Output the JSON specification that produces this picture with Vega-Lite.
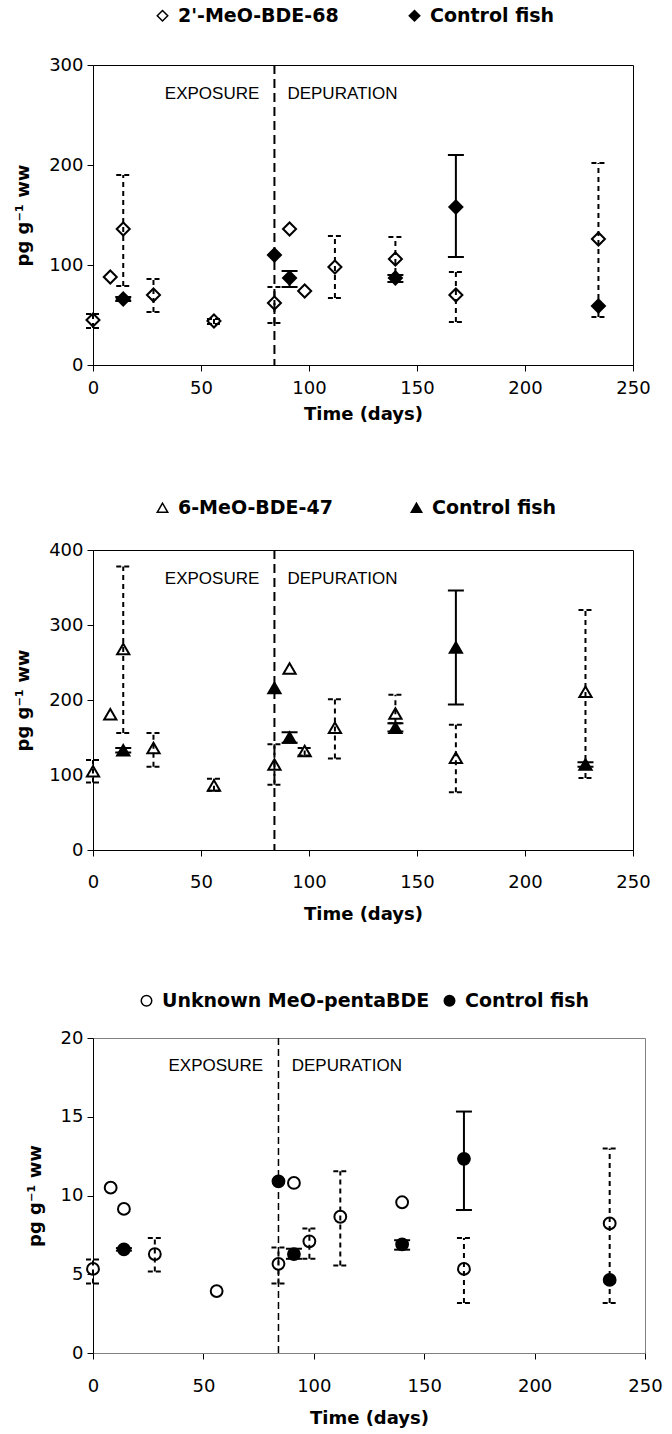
{
  "$schema": "https://vega.github.io/schema/vega-lite/v6.json",
  "padding": {"left": 14, "top": 5, "right": 5, "bottom": 5},
  "datasets": {
    "d1": [
      {"series": "2'-MeO-BDE-68", "kind": "exp", "day": 0, "value": 45, "lo": 37, "hi": 51},
      {"series": "2'-MeO-BDE-68", "kind": "exp", "day": 8, "value": 88, "lo": null, "hi": null},
      {"series": "2'-MeO-BDE-68", "kind": "exp", "day": 14, "value": 136, "lo": 79, "hi": 190},
      {"series": "2'-MeO-BDE-68", "kind": "exp", "day": 28, "value": 70, "lo": 53, "hi": 86},
      {"series": "2'-MeO-BDE-68", "kind": "exp", "day": 56, "value": 44, "lo": 41, "hi": 46},
      {"series": "2'-MeO-BDE-68", "kind": "exp", "day": 84, "value": 62, "lo": 42, "hi": 78},
      {"series": "2'-MeO-BDE-68", "kind": "exp", "day": 91, "value": 136, "lo": null, "hi": null},
      {"series": "2'-MeO-BDE-68", "kind": "exp", "day": 98, "value": 74, "lo": null, "hi": null},
      {"series": "2'-MeO-BDE-68", "kind": "exp", "day": 112, "value": 98, "lo": 67, "hi": 129},
      {"series": "2'-MeO-BDE-68", "kind": "exp", "day": 140, "value": 106, "lo": 83, "hi": 128},
      {"series": "2'-MeO-BDE-68", "kind": "exp", "day": 168, "value": 70, "lo": 43, "hi": 93},
      {"series": "2'-MeO-BDE-68", "kind": "exp", "day": 234, "value": 126, "lo": 48, "hi": 202},
      {"series": "Control fish", "kind": "ctl", "day": 14, "value": 66, "lo": 64, "hi": 68},
      {"series": "Control fish", "kind": "ctl", "day": 84, "value": 110, "lo": null, "hi": null},
      {"series": "Control fish", "kind": "ctl", "day": 91, "value": 87, "lo": 78, "hi": 94},
      {"series": "Control fish", "kind": "ctl", "day": 140, "value": 87, "lo": 83, "hi": 90},
      {"series": "Control fish", "kind": "ctl", "day": 168, "value": 158, "lo": 108, "hi": 210},
      {"series": "Control fish", "kind": "ctl", "day": 234, "value": 59, "lo": null, "hi": null}
    ],
    "d2": [
      {"series": "6-MeO-BDE-47", "kind": "exp", "day": 0, "value": 105, "lo": 90, "hi": 120},
      {"series": "6-MeO-BDE-47", "kind": "exp", "day": 8, "value": 181, "lo": null, "hi": null},
      {"series": "6-MeO-BDE-47", "kind": "exp", "day": 14, "value": 268, "lo": 156, "hi": 378},
      {"series": "6-MeO-BDE-47", "kind": "exp", "day": 28, "value": 136, "lo": 111, "hi": 156},
      {"series": "6-MeO-BDE-47", "kind": "exp", "day": 56, "value": 86, "lo": 79, "hi": 95},
      {"series": "6-MeO-BDE-47", "kind": "exp", "day": 84, "value": 114, "lo": 87, "hi": 141},
      {"series": "6-MeO-BDE-47", "kind": "exp", "day": 91, "value": 242, "lo": null, "hi": null},
      {"series": "6-MeO-BDE-47", "kind": "exp", "day": 98, "value": 132, "lo": 126, "hi": 136},
      {"series": "6-MeO-BDE-47", "kind": "exp", "day": 112, "value": 163, "lo": 122, "hi": 201},
      {"series": "6-MeO-BDE-47", "kind": "exp", "day": 140, "value": 182, "lo": 169, "hi": 207},
      {"series": "6-MeO-BDE-47", "kind": "exp", "day": 168, "value": 123, "lo": 77, "hi": 167},
      {"series": "6-MeO-BDE-47", "kind": "exp", "day": 228, "value": 211, "lo": 96, "hi": 320},
      {"series": "Control fish", "kind": "ctl", "day": 14, "value": 133, "lo": 130, "hi": 136},
      {"series": "Control fish", "kind": "ctl", "day": 84, "value": 216, "lo": null, "hi": null},
      {"series": "Control fish", "kind": "ctl", "day": 91, "value": 150, "lo": 143, "hi": 157},
      {"series": "Control fish", "kind": "ctl", "day": 140, "value": 163, "lo": 158, "hi": 169},
      {"series": "Control fish", "kind": "ctl", "day": 168, "value": 270, "lo": 194, "hi": 346},
      {"series": "Control fish", "kind": "ctl", "day": 228, "value": 114, "lo": 111, "hi": 117}
    ],
    "d3": [
      {"series": "Unknown MeO-pentaBDE", "kind": "exp", "day": 0, "value": 5.34, "lo": 4.42, "hi": 5.94},
      {"series": "Unknown MeO-pentaBDE", "kind": "exp", "day": 8, "value": 10.5, "lo": null, "hi": null},
      {"series": "Unknown MeO-pentaBDE", "kind": "exp", "day": 14, "value": 9.15, "lo": null, "hi": null},
      {"series": "Unknown MeO-pentaBDE", "kind": "exp", "day": 28, "value": 6.28, "lo": 5.17, "hi": 7.3},
      {"series": "Unknown MeO-pentaBDE", "kind": "exp", "day": 56, "value": 3.93, "lo": null, "hi": null},
      {"series": "Unknown MeO-pentaBDE", "kind": "exp", "day": 84, "value": 5.66, "lo": 4.42, "hi": 6.7},
      {"series": "Unknown MeO-pentaBDE", "kind": "exp", "day": 91, "value": 10.8, "lo": null, "hi": null},
      {"series": "Unknown MeO-pentaBDE", "kind": "exp", "day": 98, "value": 7.09, "lo": 5.98, "hi": 7.9},
      {"series": "Unknown MeO-pentaBDE", "kind": "exp", "day": 112, "value": 8.65, "lo": 5.56, "hi": 11.54},
      {"series": "Unknown MeO-pentaBDE", "kind": "exp", "day": 140, "value": 9.57, "lo": null, "hi": null},
      {"series": "Unknown MeO-pentaBDE", "kind": "exp", "day": 168, "value": 5.34, "lo": 3.18, "hi": 7.3},
      {"series": "Unknown MeO-pentaBDE", "kind": "exp", "day": 234, "value": 8.23, "lo": 3.18, "hi": 12.98},
      {"series": "Control fish", "kind": "ctl", "day": 14, "value": 6.58, "lo": 6.5, "hi": 6.66},
      {"series": "Control fish", "kind": "ctl", "day": 84, "value": 10.9, "lo": null, "hi": null},
      {"series": "Control fish", "kind": "ctl", "day": 91, "value": 6.28, "lo": 5.98, "hi": 6.62},
      {"series": "Control fish", "kind": "ctl", "day": 140, "value": 6.9, "lo": 6.56, "hi": 7.16},
      {"series": "Control fish", "kind": "ctl", "day": 168, "value": 12.33, "lo": 9.08, "hi": 15.33},
      {"series": "Control fish", "kind": "ctl", "day": 234, "value": 4.64, "lo": null, "hi": null}
    ]
  },
  "spacing": 66,
  "resolve": {"scale": {"x": "independent", "y": "independent", "shape": "independent", "fill": "independent", "stroke": "independent"}, "legend": {"shape": "independent", "fill": "independent", "stroke": "independent"}},
  "vconcat": [
    {
      "spacing": 73,
      "resolve": {"scale": {"x": "independent", "y": "independent", "shape": "independent", "fill": "independent", "stroke": "independent"}, "legend": {"shape": "independent", "fill": "independent", "stroke": "independent"}},
      "vconcat": [
        {
          "width": 540, "height": 300,
          "data": {"name": "d1"},
          "layer": [
            {"mark": {"type": "point", "filled": true, "strokeWidth": 2, "size": 170, "opacity": 1},
             "encoding": {
               "x": {"field": "day", "type": "quantitative", "scale": {"domain": [0, 250], "nice": false}, "axis": {"values": [0, 50, 100, 150, 200, 250], "title": "Time (days)"}},
               "y": {"field": "value", "type": "quantitative", "scale": {"domain": [0, 300], "nice": false}, "axis": {"values": [0, 100, 200, 300], "title": "pg g⁻¹ ww"}},
               "shape": {"field": "series", "type": "nominal", "scale": {"domain": ["2'-MeO-BDE-68", "Control fish"], "range": ["diamond", "diamond"]},
                 "legend": {"orient": "none", "legendX": 60, "legendY": -59, "direction": "horizontal", "title": null, "columnPadding": 66}},
               "fill": {"field": "series", "type": "nominal", "scale": {"domain": ["2'-MeO-BDE-68", "Control fish"], "range": ["white", "black"]},
                 "legend": {"orient": "none", "legendX": 60, "legendY": -59, "direction": "horizontal", "title": null, "columnPadding": 66}},
               "stroke": {"field": "series", "type": "nominal", "scale": {"domain": ["2'-MeO-BDE-68", "Control fish"], "range": ["black", "black"]},
                 "legend": {"orient": "none", "legendX": 60, "legendY": -59, "direction": "horizontal", "title": null, "columnPadding": 66}}
             }},
            {"data": {"values": [{}]}, "mark": {"type": "rule", "strokeDash": [9, 5], "strokeWidth": 2, "color": "black"}, "encoding": {"x": {"datum": 84, "type": "quantitative"}}},
            {"data": {"values": [{}]}, "mark": {"type": "text", "align": "right", "baseline": "middle", "font": "Liberation Sans", "fontSize": 17, "color": "black"},
             "encoding": {"x": {"datum": 77, "type": "quantitative"}, "y": {"datum": 271, "type": "quantitative"}, "text": {"value": "EXPOSURE"}}},
            {"data": {"values": [{}]}, "mark": {"type": "text", "align": "left", "baseline": "middle", "font": "Liberation Sans", "fontSize": 17, "color": "black"},
             "encoding": {"x": {"datum": 90, "type": "quantitative"}, "y": {"datum": 271, "type": "quantitative"}, "text": {"value": "DEPURATION"}}},
            {"transform": [{"filter": {"field": "kind", "equal": "exp"}}, {"filter": "isValid(datum.lo)"}],
             "mark": {"type": "rule", "strokeDash": [5, 4], "strokeWidth": 2, "color": "black"},
             "encoding": {"x": {"field": "day", "type": "quantitative"}, "y": {"field": "lo", "type": "quantitative"}, "y2": {"field": "hi"}}},
            {"transform": [{"filter": {"field": "kind", "equal": "exp"}}, {"filter": "isValid(datum.lo)"}],
             "mark": {"type": "rule", "strokeDash": [5, 3], "strokeWidth": 2, "color": "black", "xOffset": -7, "x2Offset": 7},
             "encoding": {"x": {"field": "day", "type": "quantitative"}, "x2": {"field": "day"}, "y": {"field": "lo", "type": "quantitative"}}},
            {"transform": [{"filter": {"field": "kind", "equal": "exp"}}, {"filter": "isValid(datum.hi)"}],
             "mark": {"type": "rule", "strokeDash": [5, 3], "strokeWidth": 2, "color": "black", "xOffset": -7, "x2Offset": 7},
             "encoding": {"x": {"field": "day", "type": "quantitative"}, "x2": {"field": "day"}, "y": {"field": "hi", "type": "quantitative"}}},
            {"transform": [{"filter": {"field": "kind", "equal": "ctl"}}, {"filter": "isValid(datum.lo)"}],
             "mark": {"type": "rule", "strokeWidth": 2, "color": "black"},
             "encoding": {"x": {"field": "day", "type": "quantitative"}, "y": {"field": "lo", "type": "quantitative"}, "y2": {"field": "hi"}}},
            {"transform": [{"filter": {"field": "kind", "equal": "ctl"}}, {"filter": "isValid(datum.lo)"}],
             "mark": {"type": "rule", "strokeWidth": 2, "color": "black", "xOffset": -8, "x2Offset": 8},
             "encoding": {"x": {"field": "day", "type": "quantitative"}, "x2": {"field": "day"}, "y": {"field": "lo", "type": "quantitative"}}},
            {"transform": [{"filter": {"field": "kind", "equal": "ctl"}}, {"filter": "isValid(datum.hi)"}],
             "mark": {"type": "rule", "strokeWidth": 2, "color": "black", "xOffset": -8, "x2Offset": 8},
             "encoding": {"x": {"field": "day", "type": "quantitative"}, "x2": {"field": "day"}, "y": {"field": "hi", "type": "quantitative"}}}
          ]
        },
        {
          "width": 540, "height": 300,
          "data": {"name": "d2"},
          "layer": [
            {"mark": {"type": "point", "filled": true, "strokeWidth": 2, "size": 150, "opacity": 1},
             "encoding": {
               "x": {"field": "day", "type": "quantitative", "scale": {"domain": [0, 250], "nice": false}, "axis": {"values": [0, 50, 100, 150, 200, 250], "title": "Time (days)", "labelPadding": 17, "titlePadding": 14}},
               "y": {"field": "value", "type": "quantitative", "scale": {"domain": [0, 400], "nice": false}, "axis": {"values": [0, 100, 200, 300, 400], "title": "pg g⁻¹ ww"}},
               "shape": {"field": "series", "type": "nominal", "scale": {"domain": ["6-MeO-BDE-47", "Control fish"], "range": ["triangle-up", "triangle-up"]},
                 "legend": {"orient": "none", "legendX": 60, "legendY": -52, "direction": "horizontal", "title": null, "columnPadding": 74}},
               "fill": {"field": "series", "type": "nominal", "scale": {"domain": ["6-MeO-BDE-47", "Control fish"], "range": ["white", "black"]},
                 "legend": {"orient": "none", "legendX": 60, "legendY": -52, "direction": "horizontal", "title": null, "columnPadding": 74}},
               "stroke": {"field": "series", "type": "nominal", "scale": {"domain": ["6-MeO-BDE-47", "Control fish"], "range": ["black", "black"]},
                 "legend": {"orient": "none", "legendX": 60, "legendY": -52, "direction": "horizontal", "title": null, "columnPadding": 74}}
             }},
            {"data": {"values": [{}]}, "mark": {"type": "rule", "strokeDash": [9, 5], "strokeWidth": 2, "color": "black"}, "encoding": {"x": {"datum": 84, "type": "quantitative"}}},
            {"data": {"values": [{}]}, "mark": {"type": "text", "align": "right", "baseline": "middle", "font": "Liberation Sans", "fontSize": 17, "color": "black"},
             "encoding": {"x": {"datum": 77, "type": "quantitative"}, "y": {"datum": 362, "type": "quantitative"}, "text": {"value": "EXPOSURE"}}},
            {"data": {"values": [{}]}, "mark": {"type": "text", "align": "left", "baseline": "middle", "font": "Liberation Sans", "fontSize": 17, "color": "black"},
             "encoding": {"x": {"datum": 90, "type": "quantitative"}, "y": {"datum": 362, "type": "quantitative"}, "text": {"value": "DEPURATION"}}},
            {"transform": [{"filter": {"field": "kind", "equal": "exp"}}, {"filter": "isValid(datum.lo)"}],
             "mark": {"type": "rule", "strokeDash": [5, 4], "strokeWidth": 2, "color": "black"},
             "encoding": {"x": {"field": "day", "type": "quantitative"}, "y": {"field": "lo", "type": "quantitative"}, "y2": {"field": "hi"}}},
            {"transform": [{"filter": {"field": "kind", "equal": "exp"}}, {"filter": "isValid(datum.lo)"}],
             "mark": {"type": "rule", "strokeDash": [5, 3], "strokeWidth": 2, "color": "black", "xOffset": -7, "x2Offset": 7},
             "encoding": {"x": {"field": "day", "type": "quantitative"}, "x2": {"field": "day"}, "y": {"field": "lo", "type": "quantitative"}}},
            {"transform": [{"filter": {"field": "kind", "equal": "exp"}}, {"filter": "isValid(datum.hi)"}],
             "mark": {"type": "rule", "strokeDash": [5, 3], "strokeWidth": 2, "color": "black", "xOffset": -7, "x2Offset": 7},
             "encoding": {"x": {"field": "day", "type": "quantitative"}, "x2": {"field": "day"}, "y": {"field": "hi", "type": "quantitative"}}},
            {"transform": [{"filter": {"field": "kind", "equal": "ctl"}}, {"filter": "isValid(datum.lo)"}],
             "mark": {"type": "rule", "strokeWidth": 2, "color": "black"},
             "encoding": {"x": {"field": "day", "type": "quantitative"}, "y": {"field": "lo", "type": "quantitative"}, "y2": {"field": "hi"}}},
            {"transform": [{"filter": {"field": "kind", "equal": "ctl"}}, {"filter": "isValid(datum.lo)"}],
             "mark": {"type": "rule", "strokeWidth": 2, "color": "black", "xOffset": -8, "x2Offset": 8},
             "encoding": {"x": {"field": "day", "type": "quantitative"}, "x2": {"field": "day"}, "y": {"field": "lo", "type": "quantitative"}}},
            {"transform": [{"filter": {"field": "kind", "equal": "ctl"}}, {"filter": "isValid(datum.hi)"}],
             "mark": {"type": "rule", "strokeWidth": 2, "color": "black", "xOffset": -8, "x2Offset": 8},
             "encoding": {"x": {"field": "day", "type": "quantitative"}, "x2": {"field": "day"}, "y": {"field": "hi", "type": "quantitative"}}}
          ]
        }
      ]
    },
    {
      "width": 552, "height": 315,
      "view": {"stroke": "#808080"},
      "data": {"name": "d3"},
      "layer": [
        {"mark": {"type": "point", "filled": true, "strokeWidth": 2, "size": 140, "opacity": 1},
         "encoding": {
           "x": {"field": "day", "type": "quantitative", "scale": {"domain": [0, 250], "nice": false}, "axis": {"values": [0, 50, 100, 150, 200, 250], "title": "Time (days)", "domainColor": "#808080", "labelPadding": 18, "titlePadding": 14}},
           "y": {"field": "value", "type": "quantitative", "scale": {"domain": [0, 20], "nice": false}, "axis": {"values": [0, 5, 10, 15, 20], "title": "pg g⁻¹ ww"}},
           "shape": {"field": "series", "type": "nominal", "scale": {"domain": ["Unknown MeO-pentaBDE", "Control fish"], "range": ["circle", "circle"]},
             "legend": {"orient": "none", "legendX": 44, "legendY": -47, "direction": "horizontal", "title": null, "columnPadding": 10}},
           "fill": {"field": "series", "type": "nominal", "scale": {"domain": ["Unknown MeO-pentaBDE", "Control fish"], "range": ["white", "black"]},
             "legend": {"orient": "none", "legendX": 44, "legendY": -47, "direction": "horizontal", "title": null, "columnPadding": 10}},
           "stroke": {"field": "series", "type": "nominal", "scale": {"domain": ["Unknown MeO-pentaBDE", "Control fish"], "range": ["black", "black"]},
             "legend": {"orient": "none", "legendX": 44, "legendY": -47, "direction": "horizontal", "title": null, "columnPadding": 10}}
         }},
        {"data": {"values": [{}]}, "mark": {"type": "rule", "strokeDash": [7, 4], "strokeWidth": 1.5, "color": "black"}, "encoding": {"x": {"datum": 84, "type": "quantitative"}}},
        {"data": {"values": [{}]}, "mark": {"type": "text", "align": "right", "baseline": "middle", "font": "Liberation Sans", "fontSize": 17, "color": "black"},
         "encoding": {"x": {"datum": 77, "type": "quantitative"}, "y": {"datum": 18.2, "type": "quantitative"}, "text": {"value": "EXPOSURE"}}},
        {"data": {"values": [{}]}, "mark": {"type": "text", "align": "left", "baseline": "middle", "font": "Liberation Sans", "fontSize": 17, "color": "black"},
         "encoding": {"x": {"datum": 90, "type": "quantitative"}, "y": {"datum": 18.2, "type": "quantitative"}, "text": {"value": "DEPURATION"}}},
        {"transform": [{"filter": {"field": "kind", "equal": "exp"}}, {"filter": "isValid(datum.lo)"}],
         "mark": {"type": "rule", "strokeDash": [5, 4], "strokeWidth": 2, "color": "black"},
         "encoding": {"x": {"field": "day", "type": "quantitative"}, "y": {"field": "lo", "type": "quantitative"}, "y2": {"field": "hi"}}},
        {"transform": [{"filter": {"field": "kind", "equal": "exp"}}, {"filter": "isValid(datum.lo)"}],
         "mark": {"type": "rule", "strokeDash": [5, 3], "strokeWidth": 2, "color": "black", "xOffset": -7, "x2Offset": 7},
         "encoding": {"x": {"field": "day", "type": "quantitative"}, "x2": {"field": "day"}, "y": {"field": "lo", "type": "quantitative"}}},
        {"transform": [{"filter": {"field": "kind", "equal": "exp"}}, {"filter": "isValid(datum.hi)"}],
         "mark": {"type": "rule", "strokeDash": [5, 3], "strokeWidth": 2, "color": "black", "xOffset": -7, "x2Offset": 7},
         "encoding": {"x": {"field": "day", "type": "quantitative"}, "x2": {"field": "day"}, "y": {"field": "hi", "type": "quantitative"}}},
        {"transform": [{"filter": {"field": "kind", "equal": "ctl"}}, {"filter": "isValid(datum.lo)"}],
         "mark": {"type": "rule", "strokeWidth": 2, "color": "black"},
         "encoding": {"x": {"field": "day", "type": "quantitative"}, "y": {"field": "lo", "type": "quantitative"}, "y2": {"field": "hi"}}},
        {"transform": [{"filter": {"field": "kind", "equal": "ctl"}}, {"filter": "isValid(datum.lo)"}],
         "mark": {"type": "rule", "strokeWidth": 2, "color": "black", "xOffset": -8, "x2Offset": 8},
         "encoding": {"x": {"field": "day", "type": "quantitative"}, "x2": {"field": "day"}, "y": {"field": "lo", "type": "quantitative"}}},
        {"transform": [{"filter": {"field": "kind", "equal": "ctl"}}, {"filter": "isValid(datum.hi)"}],
         "mark": {"type": "rule", "strokeWidth": 2, "color": "black", "xOffset": -8, "x2Offset": 8},
         "encoding": {"x": {"field": "day", "type": "quantitative"}, "x2": {"field": "day"}, "y": {"field": "hi", "type": "quantitative"}}}
      ]
    }
  ],
  "config": {
    "font": "DejaVu Sans",
    "view": {"stroke": "black", "strokeWidth": 1},
    "axis": {"grid": false, "domainColor": "black", "domainWidth": 1, "tickColor": "black", "tickSize": 6, "labelColor": "black", "titleColor": "black",
             "labelFont": "DejaVu Sans", "labelFontSize": 18, "titleFont": "DejaVu Sans", "titleFontSize": 18, "titleFontWeight": "bold"},
    "axisX": {"labelPadding": 8, "titlePadding": 8, "labelFlush": false},
    "axisY": {"labelPadding": 4, "titlePadding": 16},
    "legend": {"labelFont": "DejaVu Sans", "labelFontSize": 19, "labelFontWeight": "bold", "labelColor": "black", "labelLimit": 400, "symbolSize": 110,
               "symbolStrokeWidth": 1.5, "labelOffset": 6}
  }
}
